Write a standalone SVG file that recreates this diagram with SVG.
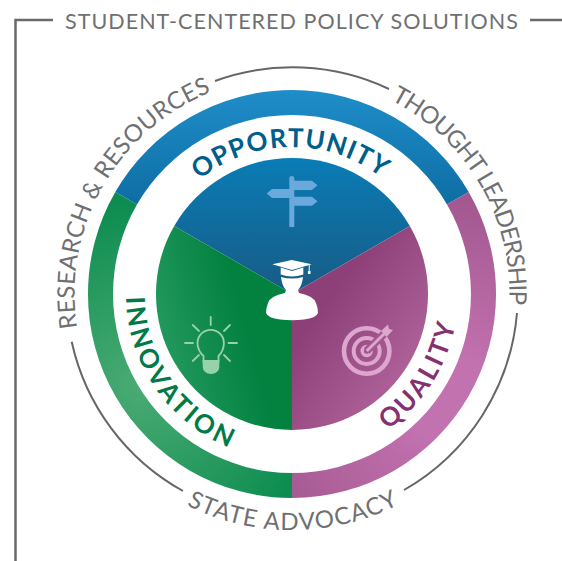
<svg xmlns="http://www.w3.org/2000/svg" width="562" height="561" viewBox="0 0 562 561">
<style>
.o{font-family:Lato,"Open Sans","Liberation Sans",sans-serif;font-size:24px;font-weight:400;fill:#6f7072}
.h{font-family:Lato,"Open Sans","Liberation Sans",sans-serif;font-size:26px;font-weight:700}
.l{fill:none;stroke:#666667;stroke-width:2}
</style>
<defs>
<linearGradient id="gb1" gradientUnits="userSpaceOnUse" x1="0" y1="90" x2="0" y2="200"><stop offset="0" stop-color="#1f8dc9"/><stop offset="1" stop-color="#0e6fa5"/></linearGradient>
<linearGradient id="gb2" gradientUnits="userSpaceOnUse" x1="0" y1="158" x2="0" y2="290"><stop offset="0" stop-color="#0a7cb6"/><stop offset="1" stop-color="#175c85"/></linearGradient>
<radialGradient id="gg1" gradientUnits="userSpaceOnUse" cx="140" cy="385" r="185"><stop offset="0" stop-color="#4aab73"/><stop offset="1" stop-color="#0c8c50"/></radialGradient>
<linearGradient id="gg2" gradientUnits="userSpaceOnUse" x1="155" y1="345" x2="245" y2="320"><stop offset="0" stop-color="#259a60"/><stop offset="1" stop-color="#02813f"/></linearGradient>
<radialGradient id="gm1" gradientUnits="userSpaceOnUse" cx="450" cy="400" r="210"><stop offset="0.2" stop-color="#c272af"/><stop offset="1" stop-color="#a1568e"/></radialGradient>
<linearGradient id="gm2" gradientUnits="userSpaceOnUse" x1="320" y1="310" x2="425" y2="385"><stop offset="0" stop-color="#8d4077"/><stop offset="1" stop-color="#b4689f"/></linearGradient>
<path id="pRes" d="M77.200 328A217.500 217.500 0 0 1 292 76.500"/>
<path id="pTho" d="M390.700 100.200A217.500 217.500 0 0 1 496.400 368.400"/>
<path id="pSta" d="M186.500 505.200A236 236 0 0 0 443.700 474.800"/>
<path id="pOpp" d="M199.500 179.800A147 147 0 0 1 419.300 220.500"/>
<path id="pInn" d="M126 297A166 166 0 0 0 292 460"/>
<path id="pQua" d="M387.600 429.700A166 166 0 0 0 448 237.200"/>
</defs>
<g id="frame">
<path d="M53 20H15.500V561M530 20H562" fill="none" stroke="#6a6a6b" stroke-width="2.500"/>
<text class="o" style="font-size:21.500px" x="65" y="29" textLength="453">STUDENT-CENTERED POLICY SOLUTIONS</text>
</g>
<g id="outer-arcs">
<path class="l" d="M215 81A226 226 0 0 1 389 89"/>
<path class="l" d="M517 313A226 226 0 0 1 404 490"/>
<path class="l" d="M183 491A226 226 0 0 1 71.700 341.700"/>
</g>
<g id="opportunity">
<path d="M115.300 192A204 204 0 0 1 468.700 192L447 204.500A179 179 0 0 0 137 204.500Z" fill="url(#gb1)"/>
<path d="M174.200 226A136 136 0 0 1 409.800 226L292 294Z" fill="url(#gb2)"/>
<path fill="#6ba8db" d="M289.300 178Q289.300 176 291.700 176Q294.300 176 294.300 178V180.700H312L317.500 185.300L312 190H294.300V196.700H312L317.500 201.200L312 205.700H294.300V227H289.300V198H272L266.700 193.500L272 189H289.300Z"/>
<text class="h" fill="#005e8c"><textPath href="#pOpp" textLength="196">OPPORTUNITY</textPath></text>
</g>
<g id="innovation">
<path d="M115.300 192A204 204 0 0 0 292 498V473A179 179 0 0 1 137 204.500Z" fill="url(#gg1)"/>
<path d="M174.200 226A136 136 0 0 0 292 430V294Z" fill="url(#gg2)"/>
<g fill="none" stroke="#98d2a8" stroke-width="1.800" stroke-linecap="round">
<path d="M203.500 362V356Q197.500 350.500 197.500 343A13.200 13.200 0 1 1 223.900 343Q223.900 350.500 218.500 356V362"/>
<path d="M210.700 317V325M185 343H193M228.500 343H237M192.700 325L199 331M230 325L224 331M192.700 361L199 355M230 361L224 355"/>
</g>
<path d="M202.700 360H219.300V367A8.300 7 0 0 1 202.700 367Z" fill="#98d2a8"/>
<text class="h" fill="#007a47"><textPath href="#pInn" textLength="193">INNOVATION</textPath></text>
</g>
<g id="quality">
<path d="M468.700 192A204 204 0 0 1 292 498V473A179 179 0 0 0 447 204.500Z" fill="url(#gm1)"/>
<path d="M409.800 226A136 136 0 0 1 292 430V294Z" fill="url(#gm2)"/>
<g fill="none" stroke="#dda6cf">
<circle cx="366.700" cy="351" r="22.700" stroke-width="4.600"/>
<circle cx="366.700" cy="351" r="13" stroke-width="4"/>
<circle cx="366.700" cy="351" r="4.500" stroke-width="3.500"/>
<path d="M366.700 351L390 328" stroke="#a4588f" stroke-width="8"/>
<path d="M366.700 351L386 332" stroke-width="3"/>
</g>
<path d="M381 331L388 324.500L389 329L393 330L386.500 337Z" fill="#dda6cf"/>
<text class="h" fill="#86306f"><textPath href="#pQua" textLength="128">QUALITY</textPath></text>
</g>
<g id="student" fill="#fff">
<path d="M272.300 264.300L291.700 260L311.700 264.300L292 270Z"/>
<path d="M280.700 267.500L292 271L303.300 267.500V274.500Q292 278.500 280.700 274.500Z"/>
<path d="M281 277Q282 286 286 290L285 293Q270 296 268 303Q266 308 266 313Q268 318 280 319.500Q292 321 304 319.500Q316 318 318 313Q318 308 316 303Q314 296 299 293L298 290Q302 286 303 277Q292 280 281 277Z"/>
<path d="M308.700 265H309.700V271H310.500V274H307.900V271H308.700Z"/>
</g>
<g id="labels">
<text class="o"><textPath href="#pRes" textLength="293">RESEARCH &amp; RESOURCES</textPath></text>
<text class="o"><textPath href="#pTho" textLength="250">THOUGHT LEADERSHIP</textPath></text>
<text class="o"><textPath href="#pSta" textLength="220">STATE ADVOCACY</textPath></text>
</g>
</svg>
